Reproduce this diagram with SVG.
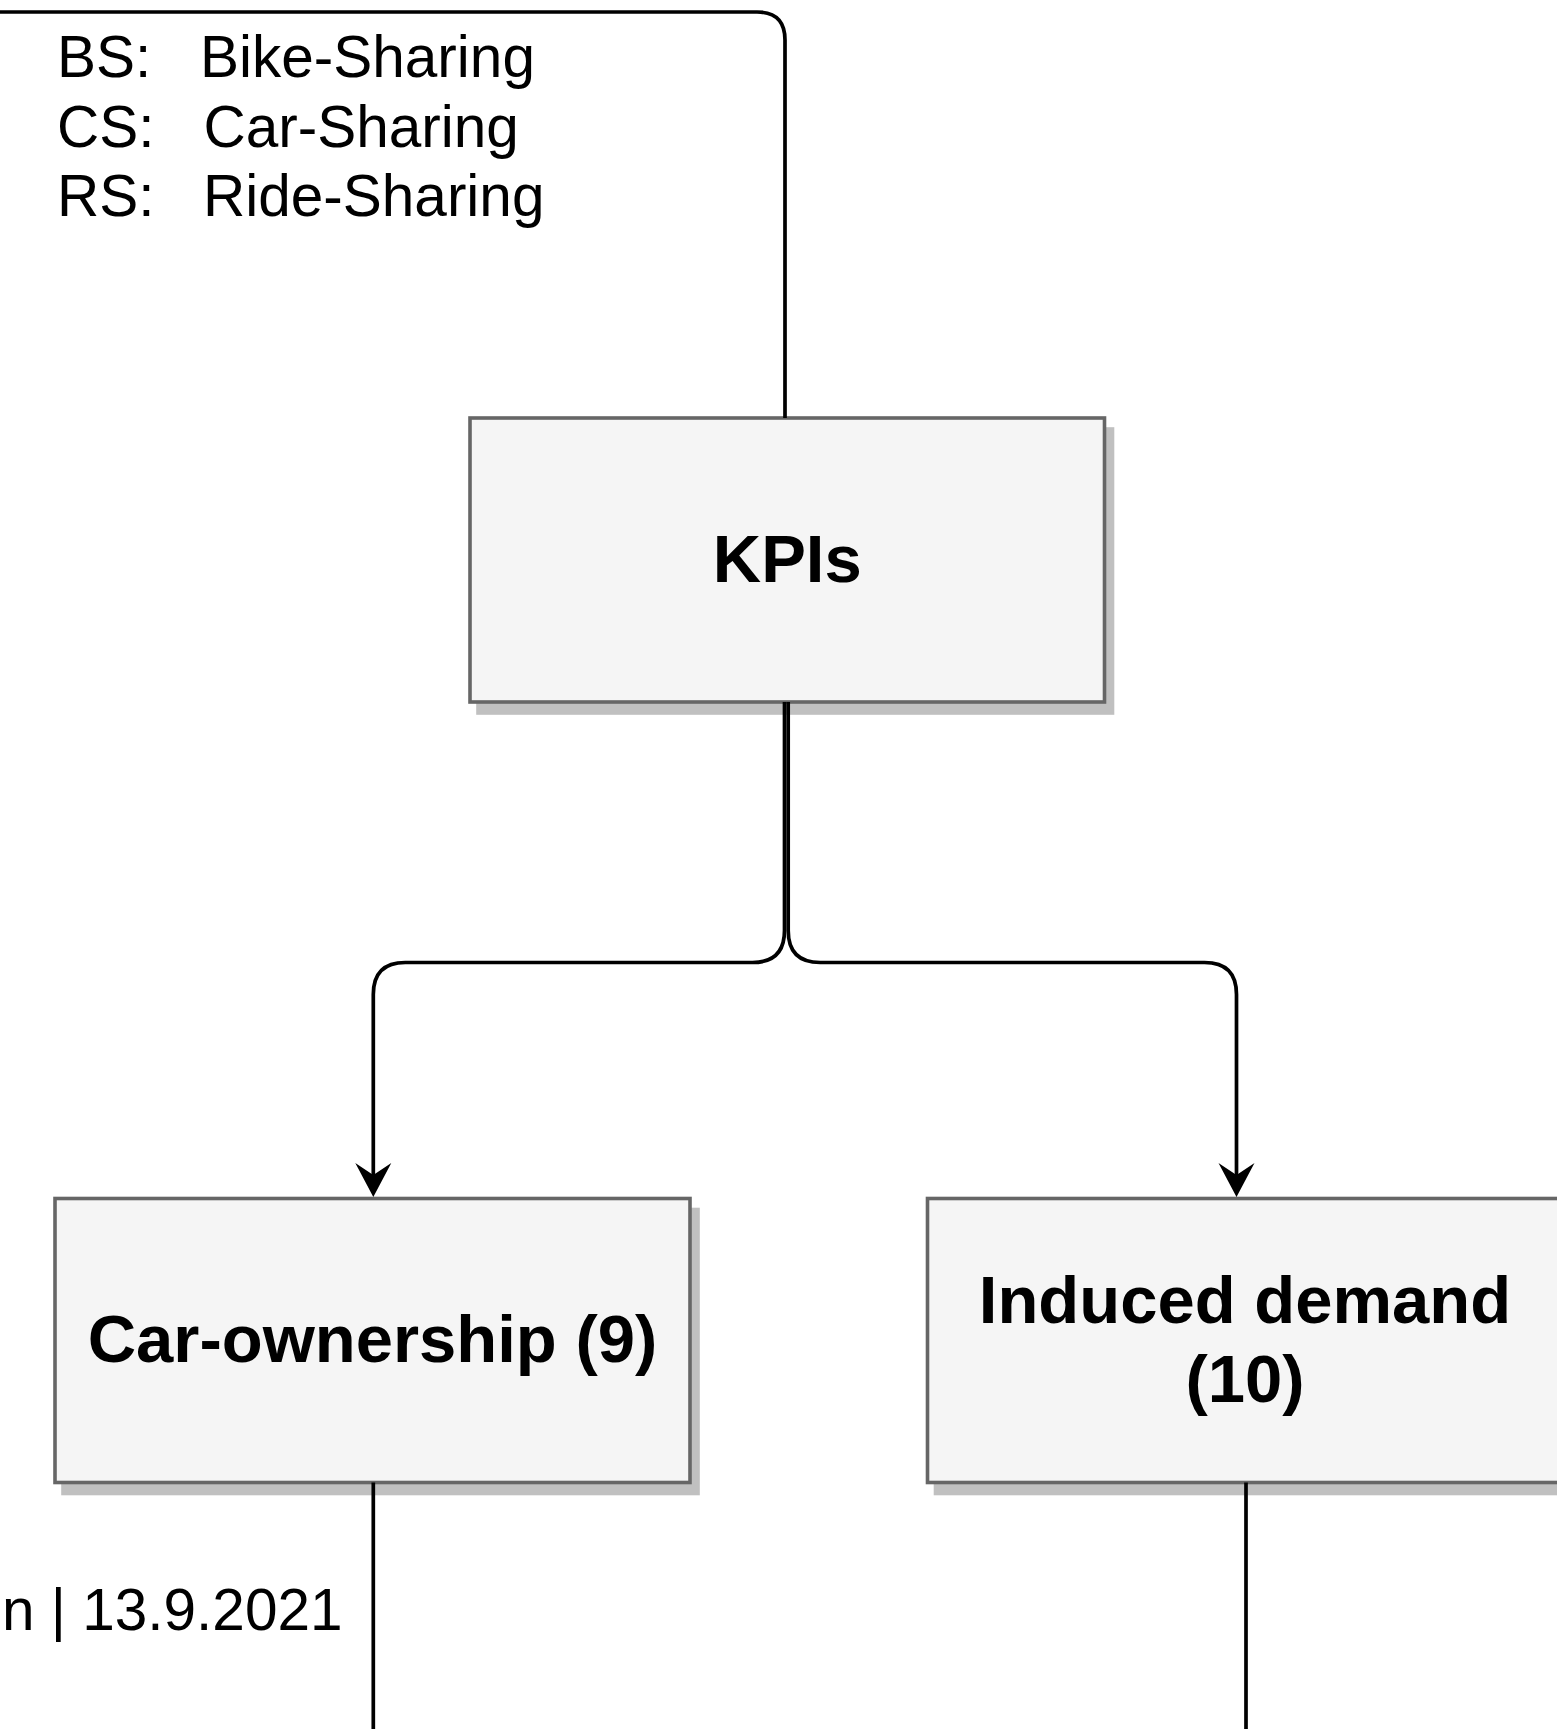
<svg xmlns="http://www.w3.org/2000/svg" width="1557" height="1729" viewBox="0 0 1557 1729">
  <style>
    .box { fill: #f5f5f5; stroke: #666666; stroke-width: 3.6; }
    .shadow { fill: #c0c0c0; stroke: #c0c0c0; stroke-width: 3.6; }
    .label { font-family: "Liberation Sans", Arial, sans-serif; font-weight: bold; font-size: 67px; fill: #000; text-anchor: middle; }
    .note { font-family: "Liberation Sans", Arial, sans-serif; font-size: 58.5px; fill: #000; }
    .edge { fill: none; stroke: #000; stroke-width: 3.7; }
  </style>
  <defs>
    <marker id="arrow" markerUnits="userSpaceOnUse" markerWidth="36" markerHeight="40" viewBox="0 -20 36 40" refX="12" refY="0" orient="auto">
      <path d="M34,0 L0,-18 L12,0 L0,18 Z" fill="#000"/>
    </marker>
  </defs>

  <!-- abbreviation legend -->
  <g id="legend">
    <text class="note" x="57" y="77">BS:<tspan x="200">Bike-Sharing</tspan></text>
    <text class="note" x="57" y="146.5">CS:<tspan x="203.5">Car-Sharing</tspan></text>
    <text class="note" x="57" y="216">RS:<tspan x="203">Ride-Sharing</tspan></text>
  </g>

  <!-- footer -->
  <g id="footer">
    <text class="note" x="2" y="1630" style="font-size:58.5px">n | 13.9.2021</text>
  </g>

  <g id="node-kpis">
    <rect class="shadow" x="478" y="429" width="634.5" height="284"/>
    <rect class="box" x="470" y="418" width="634.5" height="284"/>
    <text class="label" x="787.25" y="582">KPIs</text>
  </g>

  <g id="node-car-ownership">
    <rect class="shadow" x="63" y="1209.5" width="635" height="284"/>
    <rect class="box" x="55" y="1198.5" width="635" height="284"/>
    <text class="label" x="372.5" y="1362">Car-ownership (9)</text>
  </g>

  <g id="node-induced-demand">
    <rect class="shadow" x="935.5" y="1209.5" width="635" height="284"/>
    <rect class="box" x="927.5" y="1198.5" width="635" height="284"/>
    <text class="label" x="1245" y="1323">Induced demand</text>
    <text class="label" x="1245" y="1402">(10)</text>
  </g>

  <g id="connectors">
    <path class="edge" d="M-10,12 L757,12 Q785,12 785,40 L785,418"/>
    <path class="edge" d="M784.5,702 L784.5,930.5 Q784.5,962.5 752.5,962.5 L405.3,962.5 Q373.3,962.5 373.3,994.5 L373.3,1175" marker-end="url(#arrow)"/>
    <path class="edge" d="M788.2,702 L788.2,930.5 Q788.2,962.5 820.2,962.5 L1204.5,962.5 Q1236.5,962.5 1236.5,994.5 L1236.5,1175" marker-end="url(#arrow)"/>
    <path class="edge" d="M373.3,1482.5 L373.3,1740"/>
    <path class="edge" d="M1246,1482.5 L1246,1740"/>
  </g>
</svg>
